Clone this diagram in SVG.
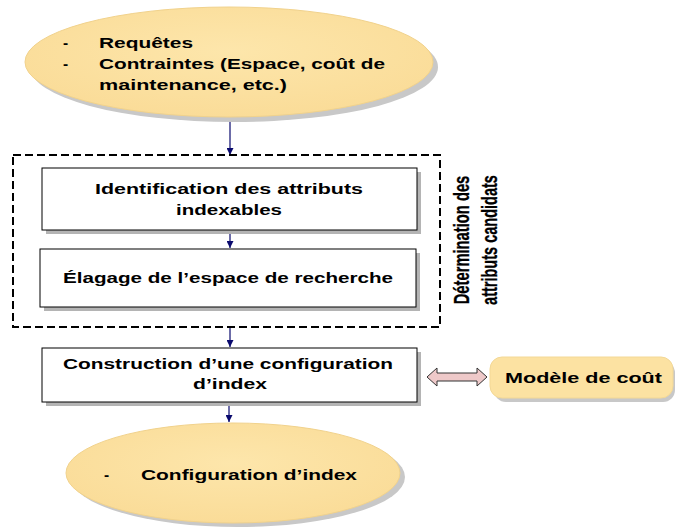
<svg xmlns="http://www.w3.org/2000/svg" width="675" height="529" viewBox="0 0 675 529">
<defs>
<style>
.t{font-family:"Liberation Sans",Arial,sans-serif;font-weight:bold;font-size:15.5px;fill:#000}
.v{font-family:"Liberation Sans",Arial,sans-serif;font-weight:bold;font-size:22px;fill:#000;stroke:#000;stroke-width:0.3}
.box{fill:#fff;stroke:#000;stroke-width:1}
.sh{fill:#b4b4b4}
.ell{stroke:#f1d28c;stroke-width:1}
.esh{fill:#c8c8c8}
.con{stroke:#0a0a6e;stroke-width:1.2;fill:none;marker-end:url(#ah)}
</style>
<marker id="ah" viewBox="0 0 10 10" refX="10" refY="5" markerWidth="7" markerHeight="7" markerUnits="userSpaceOnUse" orient="auto">
<path d="M0,0 L10,5 L0,10 z" fill="#0a0a6e"/>
</marker>
<radialGradient id="eg" cx="0.5" cy="0.4" r="0.6">
<stop offset="0" stop-color="#fde6ab"/>
<stop offset="1" stop-color="#fadc98"/>
</radialGradient>
</defs>

<g id="connectors">
<line class="con" x1="230" y1="119" x2="230" y2="155"/>
<line class="con" x1="230" y1="231" x2="230" y2="248"/>
<line class="con" x1="230" y1="328" x2="230" y2="347"/>
<line class="con" x1="229" y1="403" x2="229" y2="422"/>
<path id="double-arrow" d="M427,377 L437,368 L437,373 L477,373 L477,368 L487,377 L477,386 L477,381 L437,381 L437,386 Z" fill="#eec9c9" stroke="#333" stroke-width="1"/>
</g>

<g id="group-determination">
<rect x="13" y="155" width="427" height="172" fill="none" stroke="#000" stroke-width="2" stroke-dasharray="8,4"/>
<text class="v" transform="translate(469,240) rotate(-90) scale(0.67,1)" text-anchor="middle">Détermination des</text>
<text class="v" transform="translate(497,240) rotate(-90) scale(0.66,1)" text-anchor="middle">attributs candidats</text>
</g>

<g id="node-input">
<ellipse class="esh" cx="234" cy="67" rx="204" ry="55"/>
<ellipse class="ell" cx="229" cy="62" rx="204" ry="55" fill="url(#eg)"/>
<text class="t" x="63" y="48">-</text>
<text class="t" x="99" y="48" textLength="94" lengthAdjust="spacingAndGlyphs">Requêtes</text>
<text class="t" x="63" y="69">-</text>
<text class="t" x="99" y="69" textLength="286" lengthAdjust="spacingAndGlyphs">Contraintes (Espace, coût de</text>
<text class="t" x="99" y="90" textLength="188" lengthAdjust="spacingAndGlyphs">maintenance, etc.)</text>
</g>

<g id="node-identification">
<rect class="sh" x="46" y="172" width="375" height="62"/>
<rect class="box" x="42" y="168" width="375" height="62"/>
<text class="t" x="95" y="194" textLength="268" lengthAdjust="spacingAndGlyphs">Identification des attributs</text>
<text class="t" x="176" y="215" textLength="106" lengthAdjust="spacingAndGlyphs">indexables</text>
</g>

<g id="node-elagage">
<rect class="sh" x="44" y="253" width="376" height="58"/>
<rect class="box" x="40" y="249" width="376" height="58"/>
<text class="t" x="63" y="283" textLength="330" lengthAdjust="spacingAndGlyphs">Élagage de l’espace de recherche</text>
</g>

<g id="node-construction">
<rect class="sh" x="46" y="352" width="375" height="54"/>
<rect class="box" x="42" y="348" width="375" height="54"/>
<text class="t" x="63" y="369" textLength="330" lengthAdjust="spacingAndGlyphs">Construction d’une configuration</text>
<text class="t" x="193" y="389" textLength="74" lengthAdjust="spacingAndGlyphs">d’index</text>
</g>

<g id="node-modele">
<rect class="esh" x="494" y="361" width="181" height="41" rx="12"/>
<rect x="490" y="357" width="183" height="41" rx="12" fill="#fce2a2" stroke="#f3d896" stroke-width="1"/>
<text class="t" x="505" y="383" textLength="157" lengthAdjust="spacingAndGlyphs">Modèle de coût</text>
</g>

<g id="node-output">
<ellipse class="esh" cx="238" cy="477" rx="167" ry="50"/>
<ellipse class="ell" cx="233" cy="473" rx="167" ry="50" fill="url(#eg)"/>
<text class="t" x="104" y="480">-</text>
<text class="t" x="141" y="480" textLength="216" lengthAdjust="spacingAndGlyphs">Configuration d’index</text>
</g>
</svg>
